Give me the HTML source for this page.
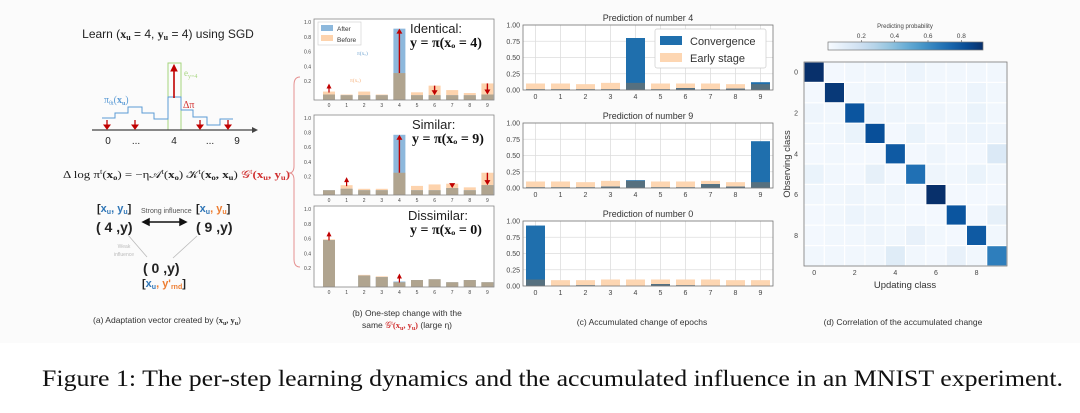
<!DOCTYPE html>
<html><head><meta charset="utf-8"><style>
html,body{margin:0;padding:0;background:#fff;}
svg{display:block;}
text{font-family:"Liberation Sans",sans-serif;}
.serif{font-family:"Liberation Serif",serif;}
</style></head><body>
<svg id="fig" width="1080" height="413" viewBox="0 0 1080 413" xmlns="http://www.w3.org/2000/svg">
<rect x="0" y="0" width="1080" height="343" fill="#fbfbfb"/>

<!-- Panel (a) -->
<g id="panelA">
<text x="168" y="38" font-size="12" text-anchor="middle" fill="#222">Learn (<tspan font-weight="bold" class="serif">x<tspan font-size="8" dy="2">u</tspan></tspan><tspan dy="-2"> = 4, </tspan><tspan font-weight="bold" class="serif">y<tspan font-size="8" dy="2">u</tspan></tspan><tspan dy="-2"> = 4) using SGD</tspan></text>
<rect x="168" y="63" width="13" height="67" fill="none" stroke="#a6d57e" stroke-width="1"/>
<text x="184" y="76" font-size="9" fill="#a6d57e" class="serif">e<tspan font-size="6" dy="2">y=4</tspan></text>
<polyline points="102,118 115,118 115,113 128,113 128,107 142,107 142,113 154,113 154,119 168,119 168,97 181,97 181,110 193,110 193,117 207,117 207,125 220,125 220,119 233,119" fill="none" stroke="#5b9bd5" stroke-width="1"/>
<text x="104" y="103" font-size="10" fill="#5b9bd5" class="serif">π<tspan font-size="6" dy="2">θt</tspan><tspan dy="-2">(</tspan><tspan font-weight="bold">x<tspan font-size="6" dy="2">u</tspan></tspan><tspan dy="-2">)</tspan></text>
<text x="183" y="108" font-size="10" fill="#d03030" class="serif">Δπ</text>
<line x1="92" y1="130" x2="254" y2="130" stroke="#444" stroke-width="1.3"/>
<polygon points="258,130 252,127 252,133" fill="#444"/>
<g fill="#c00000" stroke="#c00000">
<line x1="107" y1="120" x2="107" y2="126" stroke-width="1.3"/><polygon points="104,125 110,125 107,129"/>
<line x1="135" y1="120" x2="135" y2="126" stroke-width="1.3"/><polygon points="132,125 138,125 135,129"/>
<line x1="200" y1="120" x2="200" y2="126" stroke-width="1.3"/><polygon points="197,125 203,125 200,129"/>
<line x1="228" y1="120" x2="228" y2="126" stroke-width="1.3"/><polygon points="225,125 231,125 228,129"/>
<line x1="174" y1="98" x2="174" y2="70" stroke-width="1.6"/><polygon points="171,71 177,71 174,65"/>
</g>
<g font-size="10" fill="#222" text-anchor="middle">
<text x="108" y="144">0</text><text x="136" y="144">...</text><text x="174" y="144">4</text><text x="210" y="144">...</text><text x="237" y="144">9</text>
</g>
<text x="63" y="178" font-size="10.5" class="serif" fill="#222" textLength="227" lengthAdjust="spacingAndGlyphs">Δ log π<tspan font-size="7" dy="-4">t</tspan><tspan dy="4">(</tspan><tspan font-weight="bold">x<tspan font-size="7" dy="2">o</tspan></tspan><tspan dy="-2">) = −η𝒜</tspan><tspan font-size="7" dy="-4">t</tspan><tspan dy="4">(</tspan><tspan font-weight="bold">x</tspan><tspan font-size="7" dy="2" font-weight="bold">o</tspan><tspan dy="-2">) 𝒦</tspan><tspan font-size="7" dy="-4">t</tspan><tspan dy="4">(</tspan><tspan font-weight="bold">x<tspan font-size="7" dy="2">o</tspan></tspan><tspan dy="-2" font-weight="bold">, x</tspan><tspan font-size="7" dy="2" font-weight="bold">u</tspan><tspan dy="-2">) </tspan><tspan fill="#d03030">𝒢</tspan><tspan fill="#d03030" font-size="7" dy="-4">t</tspan><tspan fill="#d03030" dy="4" font-weight="bold">(x</tspan><tspan fill="#d03030" font-size="7" dy="2" font-weight="bold">u</tspan><tspan fill="#d03030" dy="-2" font-weight="bold">, y</tspan><tspan fill="#d03030" font-size="7" dy="2" font-weight="bold">u</tspan><tspan fill="#d03030" dy="-2" font-weight="bold">)</tspan></text>
<g class="serif" font-weight="bold" font-size="11">
<text x="97" y="212" fill="#222">[<tspan fill="#2e75b6">x<tspan font-size="7" dy="2">u</tspan></tspan><tspan dy="-2" fill="#2e75b6">, y</tspan><tspan fill="#2e75b6" font-size="7" dy="2">u</tspan><tspan dy="-2">]</tspan></text>
<text x="196" y="212" fill="#222">[<tspan fill="#2e75b6">x<tspan font-size="7" dy="2">u</tspan></tspan><tspan dy="-2" fill="#ed7d31">, y</tspan><tspan fill="#ed7d31" font-size="7" dy="2">u</tspan><tspan dy="-2">]</tspan></text>
<text x="96" y="232" font-size="14" fill="#222">( 4 ,y)</text>
<text x="196" y="232" font-size="14" fill="#222">( 9 ,y)</text>
<text x="143" y="273" font-size="14" fill="#222">( 0 ,y)</text>
<text x="142" y="287" fill="#222">[<tspan fill="#2e75b6">x<tspan font-size="7" dy="2">u</tspan></tspan><tspan dy="-2" fill="#ed7d31">, y'</tspan><tspan fill="#ed7d31" font-size="7" dy="2">rnd</tspan><tspan dy="-2">]</tspan></text>
</g>
<text x="141" y="213" font-size="7" fill="#555">Strong influence</text>
<g stroke="#111" stroke-width="1.5" fill="#111">
<line x1="147" y1="222" x2="182" y2="222"/><polygon points="143,222 149,219 149,225"/><polygon points="186,222 180,219 180,225"/>
</g>
<g stroke="#bbb" stroke-width="0.8" fill="#bbb">
<line x1="128" y1="235" x2="147" y2="257"/><line x1="197" y1="236" x2="173" y2="258"/>
</g>
<text x="124" y="248" font-size="5" fill="#bbb" text-anchor="middle">Weak</text>
<text x="124" y="256" font-size="5" fill="#bbb" text-anchor="middle">influence</text>
<text x="167" y="323" font-size="8.5" fill="#333" text-anchor="middle">(a) Adaptation vector created by (<tspan font-weight="bold" class="serif">x<tspan font-size="6" dy="2">u</tspan></tspan><tspan dy="-2" font-weight="bold" class="serif">, y</tspan><tspan font-size="6" dy="2" font-weight="bold" class="serif">u</tspan><tspan dy="-2">)</tspan></text>
</g>

<!-- brace -->
<path d="M300,77 Q294,77 294,85 L294,166 Q294,173 289,173 Q294,173 294,180 L294,259 Q294,267 300,267" fill="none" stroke="#e59090" stroke-width="1"/>

<g id="panelB"></g>
<text x="407" y="316" font-size="8.5" fill="#333" text-anchor="middle">(b) One-step change with the</text>
<text x="407" y="328" font-size="8.5" fill="#333" text-anchor="middle">same <tspan fill="#d03030" class="serif">𝒢<tspan font-size="6" dy="-3">t</tspan><tspan dy="3" font-weight="bold">(x</tspan><tspan font-size="6" dy="2" font-weight="bold">u</tspan><tspan dy="-2" font-weight="bold">, y</tspan><tspan font-size="6" dy="2" font-weight="bold">u</tspan><tspan dy="-2" font-weight="bold">)</tspan></tspan> (large η)</text>

<g id="panelC"></g>
<text x="642" y="325" font-size="8.5" fill="#333" text-anchor="middle">(c) Accumulated change of epochs</text>

<g id="panelD"></g>
<text x="903" y="325" font-size="8.5" fill="#333" text-anchor="middle">(d) Correlation of the accumulated change</text>

<text x="42" y="386" font-size="23" class="serif" fill="#111" textLength="1021" lengthAdjust="spacingAndGlyphs">Figure 1: The per-step learning dynamics and the accumulated influence in an MNIST experiment.</text>
</svg>
<script>
// ---- data ----
const classes = [0,1,2,3,4,5,6,7,8,9];
const bAfterIdentical = [0.02,0.01,0.01,0.01,0.91,0.01,0.01,0.01,0.01,0.02];
const bBeforeIdentical = [0.06,0.02,0.06,0.02,0.31,0.05,0.14,0.08,0.04,0.17];
const bAfterSimilar = [0.01,0.03,0.01,0.01,0.77,0.01,0.01,0.04,0.01,0.08];
const bBeforeSimilar = [0.01,0.08,0.03,0.03,0.25,0.07,0.09,0.10,0.05,0.25];
const bAfterDissimilar = [0.58,0.00,0.10,0.08,0.02,0.04,0.05,0.01,0.04,0.01];
const bBeforeDissimilar = [0.59,0.00,0.11,0.09,0.01,0.04,0.05,0.01,0.04,0.01];
const bMarkIdentical = [0,4,6,9];
const bMarkSimilar = [1,4,7,9];
const bMarkDissimilar = [0,4];
const bYTicks = [0.2,0.4,0.6,0.8,1.0];
const cConv4 = [0.01,0.01,0.01,0.01,0.80,0.01,0.03,0.01,0.02,0.12];
const cEarly4 = [0.10,0.10,0.09,0.11,0.11,0.10,0.10,0.10,0.09,0.09];
const cConv9 = [0.01,0.01,0.01,0.02,0.12,0.01,0.01,0.06,0.02,0.72];
const cEarly9 = [0.10,0.10,0.09,0.11,0.11,0.10,0.10,0.11,0.09,0.09];
const cConv0 = [0.93,0.00,0.01,0.00,0.00,0.03,0.01,0.00,0.00,0.00];
const cEarly0 = [0.10,0.09,0.09,0.10,0.10,0.10,0.10,0.10,0.09,0.09];
const cYTicks = [0.00,0.25,0.50,0.75,1.00];
const dDiag = [0.93,0.90,0.80,0.82,0.78,0.70,0.93,0.80,0.78,0.65];
const dOff = [
 [0,0.02,0.03,0.03,0.03,0.05,0.03,0.03,0.03,0.03],
 [0.02,0,0.03,0.04,0.03,0.03,0.03,0.03,0.05,0.03],
 [0.04,0.03,0,0.05,0.04,0.03,0.04,0.03,0.06,0.03],
 [0.03,0.03,0.06,0,0.02,0.06,0.02,0.04,0.05,0.04],
 [0.02,0.03,0.02,0.02,0,0.02,0.04,0.02,0.02,0.13],
 [0.06,0.03,0.02,0.08,0.02,0,0.04,0.03,0.06,0.03],
 [0.03,0.03,0.04,0.03,0.04,0.02,0,0.02,0.02,0.02],
 [0.02,0.03,0.05,0.04,0.03,0.02,0.02,0,0.02,0.08],
 [0.02,0.03,0.03,0.04,0.03,0.07,0.03,0.02,0,0.03],
 [0.03,0.03,0.03,0.03,0.11,0.03,0.02,0.07,0.03,0]
];
const dTicks = [0,2,4,6,8];
const cbTicks = [0.2,0.4,0.6,0.8];

const NS='http://www.w3.org/2000/svg';
function mk(parent,tag,attrs,txt){const e=document.createElementNS(NS,tag);for(const k in attrs)e.setAttribute(k,attrs[k]);if(txt!==undefined)e.textContent=txt;parent.appendChild(e);return e;}

// ---- panel b ----
const gB=document.getElementById('panelB');
function drawB(top,bottom,after,before,marks,title,titleX,eq,eqX){
  const left=314,right=494;
  const y=v=>bottom-4-v*(bottom-4-(top+3))/1.0;
  const xc=i=>329+i*17.6;
  const ax=mk(gB,'g',{});
  
  
  mk(ax,'rect',{x:left,y:top,width:right-left,height:bottom-top,fill:'#fff'});
  bYTicks.forEach(t=>{const tx=mk(ax,'text',{x:left-3,y:y(t)+2,'font-size':5,'text-anchor':'end',fill:'#444'},t.toFixed(1));
    
    });
  classes.forEach((c,i)=>{
    const a=after[i],b=before[i],w=12,x=xc(i)-w/2,m=Math.min(a,b);
    const base=bottom;
    if(b>0){const r=mk(ax,'rect',{x:x,y:y(b),width:w,height:base-y(b),fill:'#fdd3ad'});
      
      }
    if(a>0){const r=mk(ax,'rect',{x:x,y:y(a),width:w,height:base-y(a),fill:'#8db8dc'});
      
      }
    if(m>0){const r=mk(ax,'rect',{x:x,y:y(m),width:w,height:base-y(m),fill:'#b0a48f'});
      
      }
    const tx=mk(ax,'text',{x:xc(i),y:bottom+7,'font-size':5,'text-anchor':'middle',fill:'#444'},String(c));
    
    
  });
  marks.forEach(i=>{
    const a=after[i],b=before[i],d=a-b;
    if(Math.abs(d)>0.05){
      const y0=y(b),y1=y(a),dir=d>0?-1:1;
      const ln=mk(ax,'line',{x1:xc(i),y1:y0,x2:xc(i),y2:y1-dir*4,stroke:'#c00000','stroke-width':1.4});
      
      
      mk(ax,'polygon',{points:`${xc(i)-3},${y1-dir*5} ${xc(i)+3},${y1-dir*5} ${xc(i)},${y1}`,fill:'#c00000'});
    } else {
      const yy=Math.min(y(a),y(b));
      const p=mk(ax,'polygon',{points:`${xc(i)-2.5},${yy-3} ${xc(i)+2.5},${yy-3} ${xc(i)},${yy-8}`,fill:'#c00000'});
      
      
      mk(ax,'line',{x1:xc(i),y1:yy-5,x2:xc(i),y2:yy+1,stroke:'#c00000','stroke-width':1.2});
    }
  });
  mk(ax,'rect',{x:left,y:top,width:right-left,height:bottom-top,fill:'none',stroke:'#888','stroke-width':0.8});
  const t1=mk(gB,'text',{x:titleX,y:top+14,'font-size':13,fill:'#222'},title);
  
  
  const t2=mk(gB,'text',{x:eqX,y:top+28,'font-size':14,fill:'#111','class':'serif','font-weight':'bold'},eq);
  
  
}
drawB(19,100,bAfterIdentical,bBeforeIdentical,bMarkIdentical,'Identical:',410,'y = π(xₒ = 4)',410);
drawB(115,195,bAfterSimilar,bBeforeSimilar,bMarkSimilar,'Similar:',412,'y = π(xₒ = 9)',412);
drawB(206,287,bAfterDissimilar,bBeforeDissimilar,bMarkDissimilar,'Dissimilar:',408,'y = π(xₒ = 0)',410);
(function(){const lg=mk(gB,'g',{});


mk(lg,'rect',{x:318,y:22,width:43,height:23,fill:'#fff',stroke:'#ccc','stroke-width':0.6});
mk(lg,'rect',{x:321,y:25,width:12,height:6,fill:'#8db8dc'});
mk(lg,'text',{x:337,y:31,'font-size':6.5,fill:'#333'},'After');
mk(lg,'rect',{x:321,y:35,width:12,height:6,fill:'#fdd3ad'});
mk(lg,'text',{x:337,y:42,'font-size':6.5,fill:'#333'},'Before');
mk(gB,'text',{x:357,y:55,'font-size':5.5,fill:'#6fa3d0','class':'serif'},'π(xₒ)');
mk(gB,'text',{x:350,y:82,'font-size':5.5,fill:'#f5b07a','class':'serif'},'π(xₒ)');})();

// ---- panel c ----
const gC=document.getElementById('panelC');
function drawC(top,bottom,conv,early,title){
  const left=523,right=773,slot=(right-left)/10;
  const y=v=>bottom-v*(bottom-top)/1.0;
  const xc=i=>left+slot*(i+0.5);
  const ax=mk(gC,'g',{});
  
  
  mk(ax,'rect',{x:left,y:top,width:right-left,height:bottom-top,fill:'#fff'});
  cYTicks.forEach(t=>{mk(ax,'line',{x1:left,x2:right,y1:y(t),y2:y(t),stroke:'#ddd','stroke-width':0.8});
    const tx=mk(ax,'text',{x:left-3,y:y(t)+2.5,'font-size':7,'text-anchor':'end',fill:'#444'},t.toFixed(2));
    
    });
  classes.forEach((c,i)=>{mk(ax,'line',{x1:xc(i),x2:xc(i),y1:top,y2:bottom,stroke:'#ddd','stroke-width':0.8});});
  classes.forEach((c,i)=>{
    const w=slot*0.76,x=xc(i)-w/2,a=conv[i],b=early[i],m=Math.min(a,b);
    const r1=mk(ax,'rect',{x:x,y:y(b),width:w,height:bottom-y(b),fill:'#fdd6b2'});
    
    
    if(a>0){const r2=mk(ax,'rect',{x:x,y:y(a),width:w,height:bottom-y(a),fill:'#1f6fad'});
      
      }
    if(m>0){const r3=mk(ax,'rect',{x:x,y:y(m),width:w,height:bottom-y(m),fill:'#56707f'});
      
      }
    const tx=mk(ax,'text',{x:xc(i),y:bottom+9,'font-size':7,'text-anchor':'middle',fill:'#444'},String(c));
    
    
  });
  mk(ax,'rect',{x:left,y:top,width:right-left,height:bottom-top,fill:'none',stroke:'#777','stroke-width':0.8});
  const t=mk(gC,'text',{x:(left+right)/2,y:top-4,'font-size':9,'text-anchor':'middle',fill:'#333'},title);
  
  
}
drawC(25,90,cConv4,cEarly4,'Prediction of number 4');
drawC(123,188,cConv9,cEarly9,'Prediction of number 9');
drawC(221,286,cConv0,cEarly0,'Prediction of number 0');
(function(){const lg=mk(gC,'g',{});


mk(lg,'rect',{x:655,y:29,width:111,height:39,fill:'#fff',stroke:'#ccc','stroke-width':0.7,rx:2});
mk(lg,'rect',{x:660,y:36,width:22,height:9,fill:'#1f6fad'});
mk(lg,'text',{x:690,y:45,'font-size':11,fill:'#333'},'Convergence');
mk(lg,'rect',{x:660,y:53,width:22,height:9,fill:'#fdd6b2'});
mk(lg,'text',{x:690,y:62,'font-size':11,fill:'#333'},'Early stage');})();

// ---- panel d ----
const gD=document.getElementById('panelD');
function blues(v){const stops=[[0,247,251,255],[0.125,222,235,247],[0.25,198,219,239],[0.375,158,202,225],[0.5,107,174,214],[0.625,66,146,198],[0.75,33,113,181],[0.875,8,81,156],[1,8,48,107]];
  v=Math.max(0,Math.min(1,v));for(let k=1;k<stops.length;k++){if(v<=stops[k][0]){const a=stops[k-1],b=stops[k],t=(v-a[0])/(b[0]-a[0]);return `rgb(${Math.round(a[1]+t*(b[1]-a[1]))},${Math.round(a[2]+t*(b[2]-a[2]))},${Math.round(a[3]+t*(b[3]-a[3]))})`;}}return 'rgb(8,48,107)';}
(function(){
  const left=804,top=62,right=1007,bottom=266,cw=(right-left)/10,ch=(bottom-top)/10,vmax=0.93;
  const cx=i=>left+cw*i, cy=j=>top+ch*j;
  mk(gD,'rect',{x:left,y:top,width:right-left,height:bottom-top,fill:'#fff'});
  classes.forEach((r,j)=>{classes.forEach((c,i)=>{
    const v=(i===j)?dDiag[j]:dOff[j][i];
    const cell=mk(gD,'rect',{x:cx(i)+0.6,y:cy(j)+0.6,width:cw-1.2,height:ch-1.2,fill:blues(v/vmax)});
    
    
  });});
  mk(gD,'rect',{x:left,y:top,width:right-left,height:bottom-top,fill:'none',stroke:'#777','stroke-width':0.8});
  dTicks.forEach(t=>{
    const a=mk(gD,'text',{x:cx(t)+cw/2,y:bottom+9,'font-size':7,'text-anchor':'middle',fill:'#444'},String(t));
    
    
    const b=mk(gD,'text',{x:left-6,y:cy(t)+ch/2+2.5,'font-size':7,'text-anchor':'end',fill:'#444'},String(t));
    
    
  });
  const xl=mk(gD,'text',{x:905,y:288,'font-size':9.5,'text-anchor':'middle',fill:'#333'},'Updating class');
  
  
  const yl=mk(gD,'text',{x:0,y:0,'font-size':9.5,'text-anchor':'middle',fill:'#333',transform:'translate(790,164) rotate(-90)'},'Observing class');
  
  
  const cbL=828,cbR=983,cbT=42,cbB=50;
  const defs=mk(gD,'defs',{});const lg=mk(defs,'linearGradient',{id:'cbg',x1:0,x2:1,y1:0,y2:0});
  for(let k=0;k<=10;k++)mk(lg,'stop',{offset:k/10,'stop-color':blues(k/10)});
  const cb=mk(gD,'rect',{x:cbL,y:cbT,width:cbR-cbL,height:cbB-cbT,fill:'url(#cbg)',stroke:'#777','stroke-width':0.7});
  
  
  const cbx=v=>cbL+v/vmax*(cbR-cbL);
  cbTicks.forEach(t=>{mk(gD,'line',{x1:cbx(t),x2:cbx(t),y1:cbT-2,y2:cbT,stroke:'#555','stroke-width':0.6});
    const tx=mk(gD,'text',{x:cbx(t),y:cbT-4,'font-size':6.5,'text-anchor':'middle',fill:'#444'},t.toFixed(1));
    
    });
  const ct=mk(gD,'text',{x:905,y:28,'font-size':6,'text-anchor':'middle',fill:'#444'},'Predicting probability');
  
  
})();
</script>
</body></html>
